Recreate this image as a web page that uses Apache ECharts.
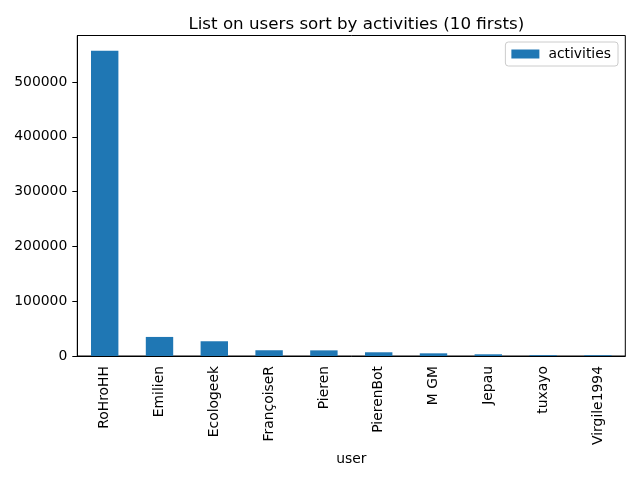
<!DOCTYPE html>
<html>
<head>
<meta charset="utf-8">
<script src="https://cdn.jsdelivr.net/npm/echarts@6/dist/echarts.min.js"></script>
<style>html,body{margin:0;padding:0;background:#fff;}#c{width:640px;height:480px;}</style>
</head>
<body>
<div id="c"></div>
<script>
const users = ['RoHroHH','Emilien','Ecologeek','FrançoiseR','Pieren','PierenBot','M GM','Jepau','tuxayo','Virgile1994'];
const activities = [557200, 34800, 26900, 10500, 10300, 6800, 4900, 3100, 1500, 1400];
const yTicks = [0, 100000, 200000, 300000, 400000, 500000];

const chart = echarts.init(document.getElementById('c'), null, {renderer: 'canvas'});
const font = 'DejaVu Sans';
chart.setOption({
  animation: false,
  backgroundColor: '#fff',
  title: {
    text: 'List on users sort by activities (10 firsts)',
    left: 351.3, top: 11, textAlign: 'center',
    textStyle: {fontFamily: font, fontSize: 16.7, fontWeight: 'normal', color: '#000'}
  },
  legend: {
    data: ['activities'],
    right: 22, top: 42,
    itemWidth: 28, itemHeight: 9,
    padding: [5, 7, 5, 6],
    borderColor: '#cccccc', borderWidth: 1, borderRadius: 3,
    icon: 'rect',
    textStyle: {fontFamily: font, fontSize: 13.9, color: '#000', padding: [0, 0, 0, 4]}
  },
  grid: {left: 77.3, right: 14.7, top: 35.5, bottom: 124, show: true, borderColor: '#000', borderWidth: 1, backgroundColor: 'transparent'},
  xAxis: {
    type: 'category',
    data: users,
    name: 'user',
    nameLocation: 'middle',
    nameGap: 95,
    nameTextStyle: {fontFamily: font, fontSize: 13.9, color: '#000'},
    axisLine: {lineStyle: {color: '#000', width: 1}},
    axisTick: {alignWithLabel: true, length: 5, lineStyle: {color: '#000'}},
    axisLabel: {rotate: 90, margin: 10, fontFamily: font, fontSize: 13.9, color: '#000', interval: 0}
  },
  yAxis: {
    type: 'value',
    min: 0, max: 585000, interval: 100000,
    axisLine: {show: true, lineStyle: {color: '#000', width: 1}},
    axisTick: {show: true, length: 5, lineStyle: {color: '#000'}, customValues: yTicks},
    splitLine: {show: false},
    axisLabel: {
      margin: 10, fontFamily: font, fontSize: 13.9, color: '#000',
      customValues: yTicks,
      formatter: v => String(v)
    }
  },
  series: [{
    name: 'activities',
    type: 'bar',
    data: activities,
    barWidth: '50%',
    itemStyle: {color: '#1f77b4'}
  }]
});
</script>
</body>
</html>
